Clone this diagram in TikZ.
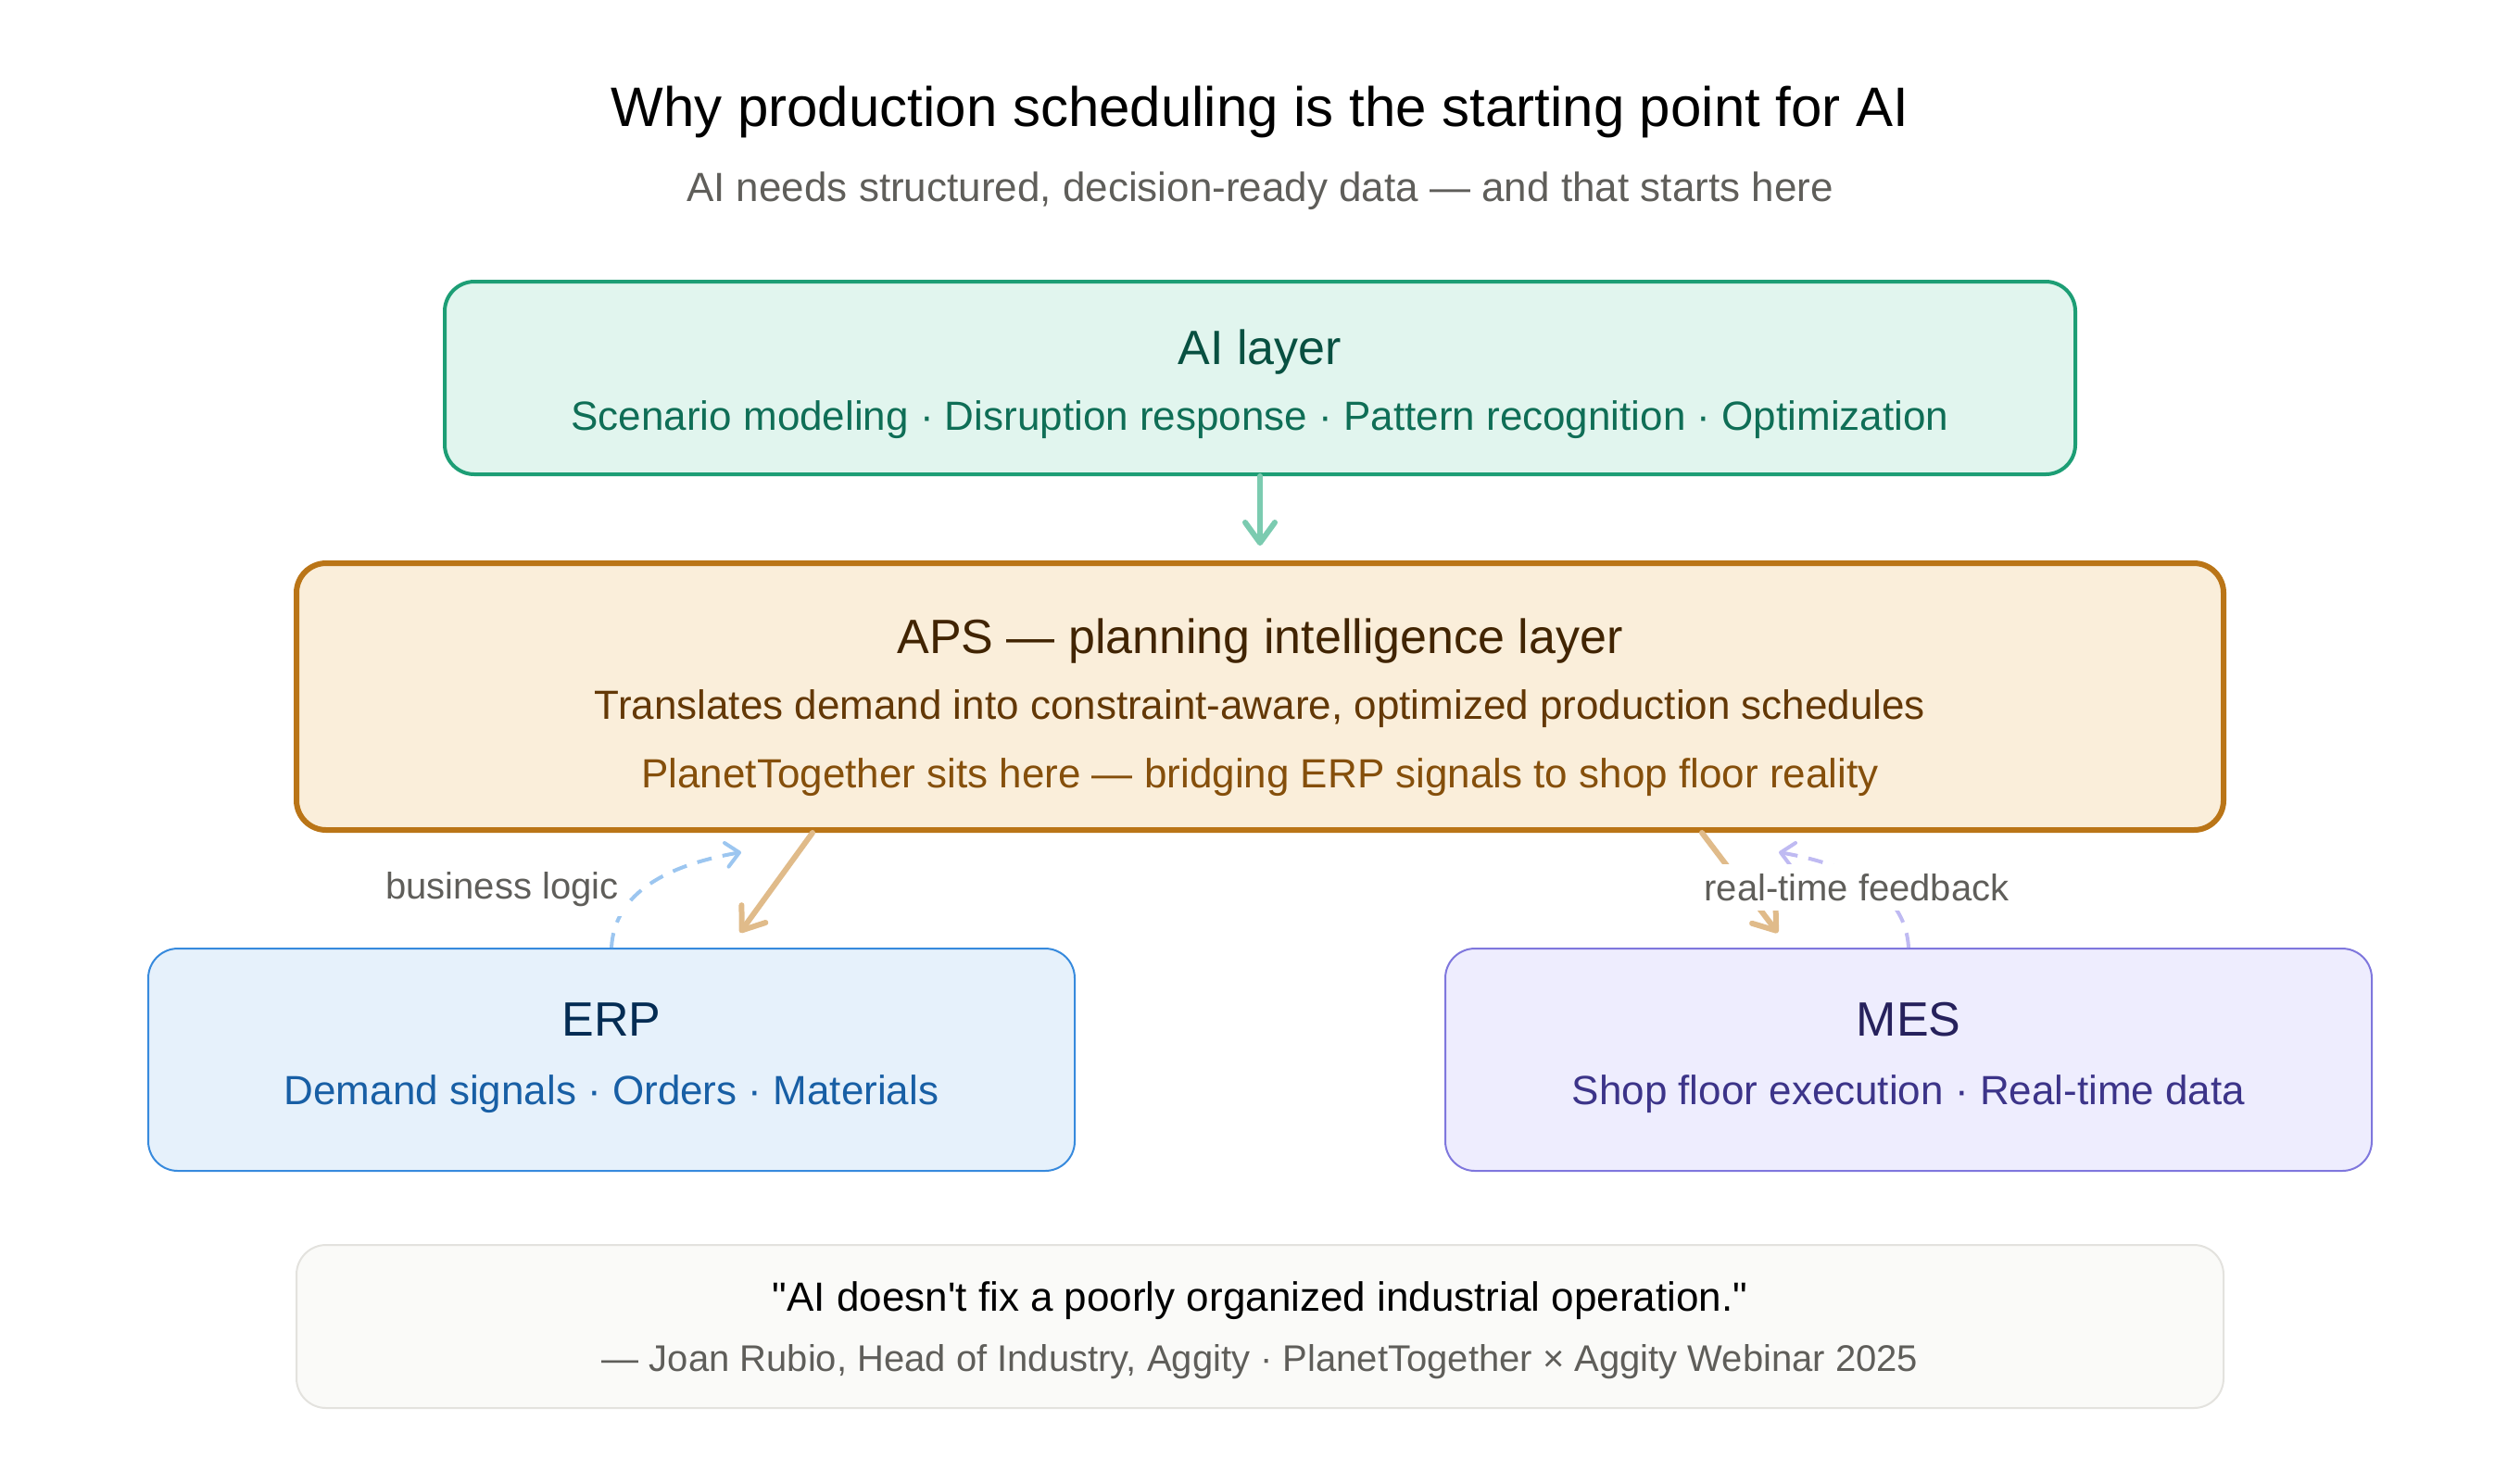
\documentclass[tikz,border=0pt]{standalone}
\usepackage{fontspec}
\setmainfont{Liberation Sans}[Ligatures=TeXOff]
\usepackage{tikz}
\usetikzlibrary{arrows.meta,calc}

\definecolor{aiFill}{HTML}{E1F5EE}
\definecolor{aiLine}{HTML}{1D9E75}
\definecolor{aiHead}{HTML}{085041}
\definecolor{aiText}{HTML}{0F6E56}
\definecolor{apsFill}{HTML}{FAEEDA}
\definecolor{apsLine}{HTML}{BA7517}
\definecolor{apsHead}{HTML}{412402}
\definecolor{apsText}{HTML}{633806}
\definecolor{apsNote}{HTML}{854F0B}
\definecolor{erpFill}{HTML}{E6F1FB}
\definecolor{erpLine}{HTML}{378ADD}
\definecolor{erpHead}{HTML}{042C53}
\definecolor{erpText}{HTML}{185FA5}
\definecolor{mesFill}{HTML}{EEEDFE}
\definecolor{mesLine}{HTML}{7F77DD}
\definecolor{mesHead}{HTML}{26215C}
\definecolor{mesText}{HTML}{3C3489}
\definecolor{quoteFill}{HTML}{FAFAF8}
\definecolor{quoteLine}{HTML}{E3E2DE}
\definecolor{greyText}{HTML}{5F5E5A}
\definecolor{downGreen}{HTML}{7BCBB0}
\definecolor{downTan}{HTML}{E0BB8A}
\definecolor{upBlue}{HTML}{9CC6F0}
\definecolor{upPurple}{HTML}{BFBAF2}

\tikzset{
  layer/.style={draw, rounded corners=8pt, inner sep=0pt},
  txt/.style={anchor=base, inner sep=0pt, font={\fontsize{#1}{#1}\selectfont}},
  flow/.style={line width=1.5pt, line cap=round, line join=round,
    -{Straight Barb[length=5.5pt,width=8pt,line cap=round,line join=round]}},
  loopback/.style={line width=1pt, dash pattern=on 4pt off 3pt,
    -{Straight Barb[length=3.5pt,width=6.5pt,line cap=round,line join=round]}},
  tag/.style={fill=white, inner sep=2.5pt, text=greyText, font={\fontsize{10}{10}\selectfont}}
}

\begin{document}
\begin{tikzpicture}[x=1pt,y=-1pt]
  \useasboundingbox (0,0) rectangle (680,400);

  \node[txt=15] (title) at (340,34.2) {Why production scheduling is the starting point for AI};
  \node[txt=11, text=greyText] (subtitle) at (340,54.4) {AI needs structured, decision-ready data — and that starts here};

  \node[layer, fill=aiFill, draw=aiLine, line width=1pt, minimum width=440pt, minimum height=52pt] (ai) at (340,102) {};
  \node[txt=13, text=aiHead] (aiT) at (340,98.4) {AI layer};
  \node[txt=11, text=aiText] (aiS) at (340,116) {Scenario modeling · Disruption response · Pattern recognition · Optimization};

  \node[layer, fill=apsFill, draw=apsLine, line width=1.5pt, minimum width=520pt, minimum height=72pt] (aps) at (340,188) {};
  \node[txt=13, text=apsHead] (apsT) at (340,176.3) {APS — planning intelligence layer};
  \node[txt=11, text=apsText] (apsS) at (340,194) {Translates demand into constraint-aware, optimized production schedules};
  \node[txt=11, text=apsNote] (apsN) at (340,212.5) {PlanetTogether sits here — bridging ERP signals to shop floor reality};

  \node[layer, fill=erpFill, draw=erpLine, line width=0.5pt, minimum width=250pt, minimum height=60pt] (erp) at (165,286) {};
  \node[txt=13, text=erpHead] (erpT) at (165,279.7) {ERP};
  \node[txt=11, text=erpText] (erpS) at (165,298.2) {Demand signals · Orders · Materials};

  \node[layer, fill=mesFill, draw=mesLine, line width=0.5pt, minimum width=250pt, minimum height=60pt] (mes) at (515,286) {};
  \node[txt=13, text=mesHead] (mesT) at (515,279.7) {MES};
  \node[txt=11, text=mesText] (mesS) at (515,298.2) {Shop floor execution · Real-time data};

  \node[layer, fill=quoteFill, draw=quoteLine, line width=0.5pt, minimum width=520pt, minimum height=44pt] (quote) at (340,358) {};
  \node[txt=11] (quoteT) at (340,353.8) {"AI doesn't fix a poorly organized industrial operation."};
  \node[txt=10, text=greyText] (quoteS) at (340,370.1) {— Joan Rubio, Head of Industry, Aggity · PlanetTogether × Aggity Webinar 2025};

  \draw[flow, downGreen, shorten >=4pt] (ai.south) -- (aps.north);
  \draw[flow, downTan, shorten >=5pt] ($(aps.south west)+(140,0)$) -- ($(erp.north west)+(157,0)$);
  \draw[flow, downTan, shorten >=5pt] ($(aps.south west)+(380,0)$) -- ($(mes.north west)+(93,0)$);

  \coordinate (erpUp) at (200,230);
  \coordinate (mesUp) at (480,230);
  \draw[loopback, upBlue] (erp.north) .. controls +(0.7,-13.3) and +(-22.7,4) .. (erpUp);
  \draw[loopback, upPurple] (mes.north) .. controls +(-0.7,-13.3) and +(22.7,4) .. (mesUp);

  \node[tag] (bizLogic) at (135.5,240) {business logic};
  \node[tag] (rtFeedback) at (501,239.5) {real-time feedback};
\end{tikzpicture}
\end{document}
